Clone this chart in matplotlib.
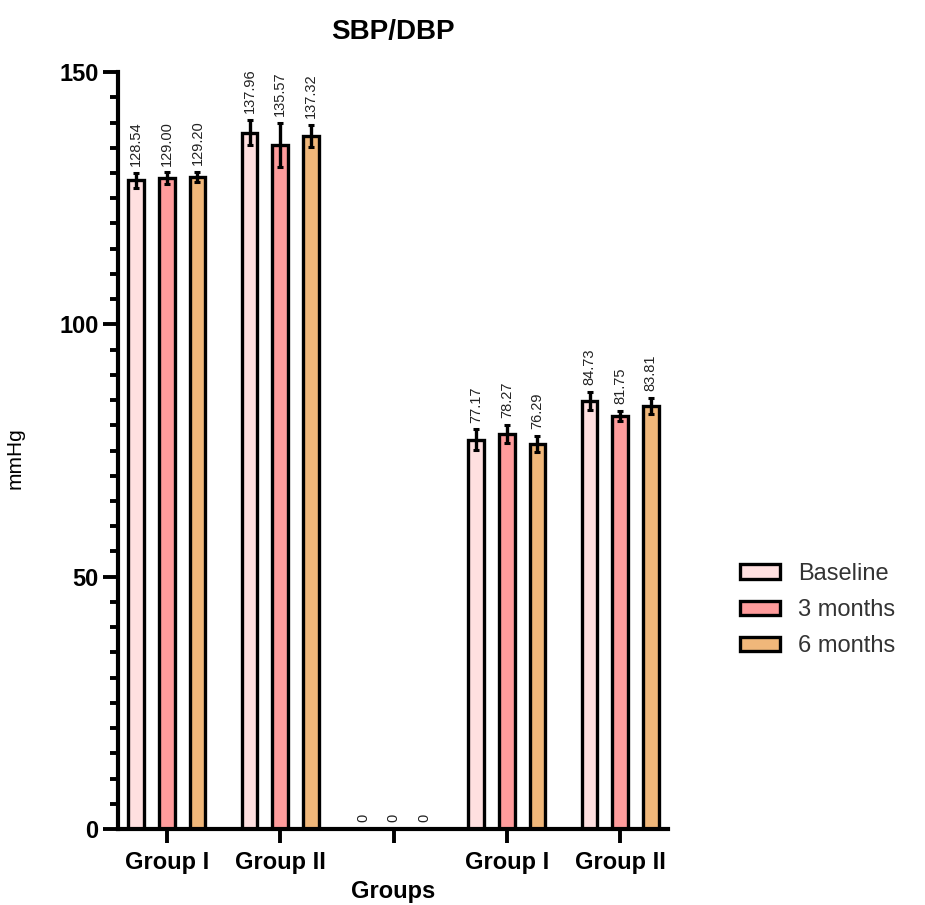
import matplotlib.pyplot as plt
import numpy as np

plt.rcParams['font.family'] = ['Liberation Sans', 'DejaVu Sans']

groups = ['Group I', 'Group II', '', 'Group I', 'Group II']
series = ['Baseline', '3 months', '6 months']
baseline = [128.54, 137.96, 0, 77.17, 84.73]
months3 = [129.00, 135.57, 0, 78.27, 81.75]
months6 = [129.20, 137.32, 0, 76.29, 83.81]
err_baseline = [1.5, 2.5, 0, 2.0, 1.8]
err_months3 = [1.1, 4.4, 0, 1.8, 1.0]
err_months6 = [1.0, 2.2, 0, 1.6, 1.6]

colors = ['#FFE0E0', '#FF9C9C', '#F0B77A']

fig = plt.figure(figsize=(9.25, 9.05), dpi=100)
ax = fig.add_axes([0.1276, 0.0840, 0.722 - 0.1276, 0.9204 - 0.0840])

x = np.arange(len(groups))
offset = 0.27
width = 0.137
values = [baseline, months3, months6]
errors = [err_baseline, err_months3, err_months6]

for i, (vals, errs, col, name) in enumerate(zip(values, errors, colors, series)):
    xs = x + (i - 1) * offset
    ax.bar(xs, vals, width, color=col, edgecolor='black', linewidth=2.4,
           label=name, zorder=2)
    ax.errorbar(xs, vals, yerr=errs, fmt='none', ecolor='black',
                elinewidth=2.4, capsize=2.5, capthick=2.2, zorder=3)
    for xi, v, e in zip(xs, vals, errs):
        txt = '0' if v == 0 else f'{v:.2f}'
        ax.annotate(txt, (xi, v + e), xytext=(0, 5), textcoords='offset points',
                    rotation=90, ha='center', va='bottom', fontsize=10.5,
                    color='#222222')

ax.set_xlim(-0.43, 4.42)
ax.set_ylim(0, 150)
ax.set_yticks([0, 50, 100, 150])
ax.set_yticks(np.arange(0, 151, 5), minor=True)
ax.set_xticks(x)
ax.set_xticklabels(groups, fontsize=17, fontweight='bold')
ax.tick_params(axis='y', which='major', length=11, width=2.8, labelsize=17, pad=3)
ax.tick_params(axis='y', which='minor', length=6, width=2.8)
ax.tick_params(axis='x', which='major', length=10, width=2.8, pad=6)
for lab in ax.get_yticklabels():
    lab.set_fontweight('bold')

for s in ['top', 'right']:
    ax.spines[s].set_visible(False)
for s in ['left', 'bottom']:
    ax.spines[s].set_linewidth(3.0)

ax.set_ylabel('mmHg', fontsize=15)
ax.yaxis.set_label_coords(-0.17, 0.49)
ax.set_xlabel('Groups', fontsize=17, fontweight='bold', labelpad=4)
ax.set_title('SBP/DBP', fontsize=20, fontweight='bold', pad=24)

leg = fig.legend(loc='center left', bbox_to_anchor=(0.800, 0.326),
                 frameon=False, fontsize=17, handlelength=1.7, handleheight=0.55,
                 handletextpad=0.75, labelspacing=0.6, borderpad=0,
                 borderaxespad=0)
for t in leg.get_texts():
    t.set_color('#333333')

fig.savefig('out.png', dpi=100, facecolor='white')
